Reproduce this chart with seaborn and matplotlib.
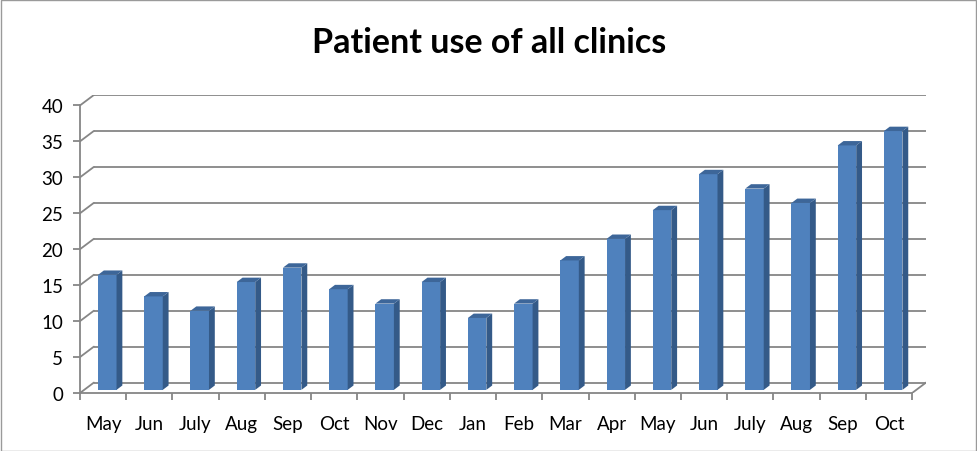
import matplotlib
matplotlib.use("Agg")
import matplotlib.pyplot as plt
import seaborn as sns
import pandas as pd
from matplotlib.patches import Polygon, Rectangle

months = ["May", "Jun", "July", "Aug", "Sep", "Oct", "Nov", "Dec", "Jan",
          "Feb", "Mar", "Apr", "May", "Jun", "July", "Aug", "Sep", "Oct"]
patients = [16, 13, 11, 15, 17, 14, 12, 15, 10, 12, 18, 21, 25, 30, 28, 26, 34, 36]
yticks = [0, 5, 10, 15, 20, 25, 30, 35, 40]
title = "Patient use of all clinics"

df = pd.DataFrame({"pos": [str(i) for i in range(len(months))],
                   "month": months, "patients": patients})

sns.set_theme(style="white")
plt.rcParams["font.family"] = ["Lato", "DejaVu Sans"]

W, H = 977, 452
fig = plt.figure(figsize=(W / 100, H / 100), dpi=100)
fig.patch.set_facecolor("white")

# axes region: front axis at x=80px, y0 at 394px
left_px, right_px = 80, 926
bottom_px, top_px = 394, 96
ax = fig.add_axes([left_px / W, (H - bottom_px) / H,
                   (right_px - left_px) / W, (bottom_px - top_px) / H])

n = len(months)
DX, DY = 0.30, 1.45          # depth of the 3D wall in data units
F_FRONT, F_BACK = 0.30, 0.72  # bar depth fractions
grid_c = "#868686"

# back wall gridlines and left wall diagonals
for v in yticks:
    ax.plot([-0.5 + DX, n - 0.5 + DX], [v + DY, v + DY], color=grid_c, lw=1.3,
            zorder=1, solid_capstyle="butt")
    ax.plot([-0.5, -0.5 + DX], [v, v + DY], color=grid_c, lw=1.3, zorder=1)
# floor right edge
ax.plot([n - 0.5, n - 0.5 + DX], [0, DY], color=grid_c, lw=1.3, zorder=1)

sns.barplot(data=df, x="pos", y="patients", color="#4F81BD", saturation=1,
            width=0.40, ax=ax, zorder=3, linewidth=0)

ax.set_xlim(-0.5, n - 0.5 + DX)
ax.set_ylim(0, 40 + DY)

sx, sy = F_FRONT * DX, F_FRONT * DY
ddx, ddy = (F_BACK - F_FRONT) * DX, (F_BACK - F_FRONT) * DY
for p in list(ax.patches):
    p.set_x(p.get_x() + sx)
    p.set_y(p.get_y() + sy)
    x0 = p.get_x(); w = p.get_width(); h = p.get_height(); y0 = p.get_y()
    side = Polygon([(x0 + w, y0), (x0 + w + ddx, y0 + ddy),
                    (x0 + w + ddx, y0 + h + ddy), (x0 + w, y0 + h)],
                   closed=True, facecolor="#345A88", edgecolor="none", zorder=3)
    top = Polygon([(x0, y0 + h), (x0 + w, y0 + h), (x0 + w + ddx, y0 + h + ddy),
                   (x0 + ddx, y0 + h + ddy)],
                  closed=True, facecolor="#3D6699", edgecolor="none", zorder=3)
    ax.add_patch(side)
    ax.add_patch(top)

for s in ["top", "right"]:
    ax.spines[s].set_visible(False)
ax.spines["left"].set_bounds(0, 40)
ax.spines["bottom"].set_bounds(-0.5, n - 0.5)
for s in ["left", "bottom"]:
    ax.spines[s].set_color(grid_c)
    ax.spines[s].set_linewidth(1.3)

ax.set_yticks(yticks)
ax.set_yticklabels([str(v) for v in yticks])
ax.set_xticks([i - 0.5 for i in range(n + 1)])
ax.set_xticklabels([])
ax.set_xticks(list(range(n)), minor=True)
ax.set_xticklabels(months, minor=True)
ax.tick_params(axis="y", which="major", direction="out", length=5, width=1.3,
               color=grid_c, labelsize=13.5, pad=7, left=True, labelcolor="black")
ax.tick_params(axis="x", which="major", direction="out", length=5, width=1.3,
               color=grid_c, bottom=True)
ax.tick_params(axis="x", which="minor", length=0, labelsize=13.5, pad=15.5,
               labelcolor="black")
ax.set_xlabel("")
ax.set_ylabel("")
ax.patch.set_alpha(0)

fig.text(489 / W, 1 - 43 / H, title, ha="center", va="center",
         fontsize=24.5, fontweight="bold", color="black")

fig.patches.append(Rectangle((0.5 / W, 0.5 / H), 1 - 1.5 / W, 1 - 1.5 / H,
                             transform=fig.transFigure, fill=False,
                             edgecolor="#9a9a9a", lw=1))

fig.savefig("out.png", dpi=100)
